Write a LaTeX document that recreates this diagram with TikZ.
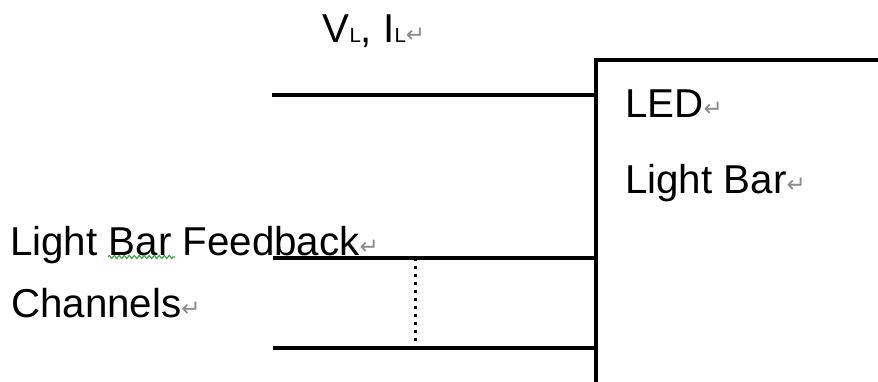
\documentclass[tikz,border=0pt]{standalone}
\usepackage{fontspec}
\setmainfont{Liberation Sans}
\newfontfamily\arrowfont{DejaVu Sans}
\usetikzlibrary{decorations.pathmorphing}
\definecolor{pmgray}{HTML}{8C8C8C}
\definecolor{spellgreen}{HTML}{3DA34A}
% paragraph mark after each line of text
\newcommand{\pmark}{{\arrowfont\fontsize{23}{23}\selectfont\color{pmgray}\raisebox{0.5pt}{↵}}}
\newcommand{\subL}{{\fontsize{20.5}{21}\selectfont L}}
\begin{document}
\begin{tikzpicture}[x=1pt,y=-1pt,
    wire/.style={line width=3.2pt},
    label/.style={anchor=base west,inner sep=0pt,font=\fontsize{40.3}{41}\selectfont},
    tie/.style={line width=3pt,dash pattern=on 3pt off 5pt}]
  \useasboundingbox (0,0) rectangle (878,381);

  % block outline (continues past the right and bottom edges)
  \coordinate (boxTL) at (596,60);
  \coordinate (boxTR) at (900,60);
  \coordinate (boxBL) at (596,400);
  \draw[wire] (boxBL) -- (boxTL) -- (boxTR);

  % input ends and their taps on the block
  \coordinate (vin)  at (272,95);
  \coordinate (vtap) at (596,95);
  \coordinate (fbA)  at (273,258);
  \coordinate (fbAtap) at (596,258);
  \coordinate (fbB)  at (273,348);
  \coordinate (fbBtap) at (596,348);
  \coordinate (dotA) at (415,258);
  \coordinate (dotB) at (415,348);

  \draw[wire] (vin) -- (vtap);
  \draw[wire] (fbA) -- (fbAtap);
  \draw[wire] (fbB) -- (fbBtap);
  \draw[tie] (dotA) -- (dotB);

  % labels
  \node[label] (vl)  at (322.5,42.5) {V\subL, I\subL\pmark};
  \node[label] (led) at (625,117) {LED\pmark};
  \node[label] (bar) at (625,193) {Light Bar\pmark};
  \node[label] (fb)  at (10,255) {Light Bar Feedback\pmark};
  \node[label] (ch)  at (11,317) {Channels\pmark};

  % spell-check squiggle under "Bar"
  \coordinate (sqA) at (108,257);
  \coordinate (sqB) at (175,257);
  \draw[spellgreen,line width=1.2pt,decorate,
        decoration={zigzag,amplitude=1.5pt,segment length=5pt}] (sqA) -- (sqB);
\end{tikzpicture}
\end{document}
